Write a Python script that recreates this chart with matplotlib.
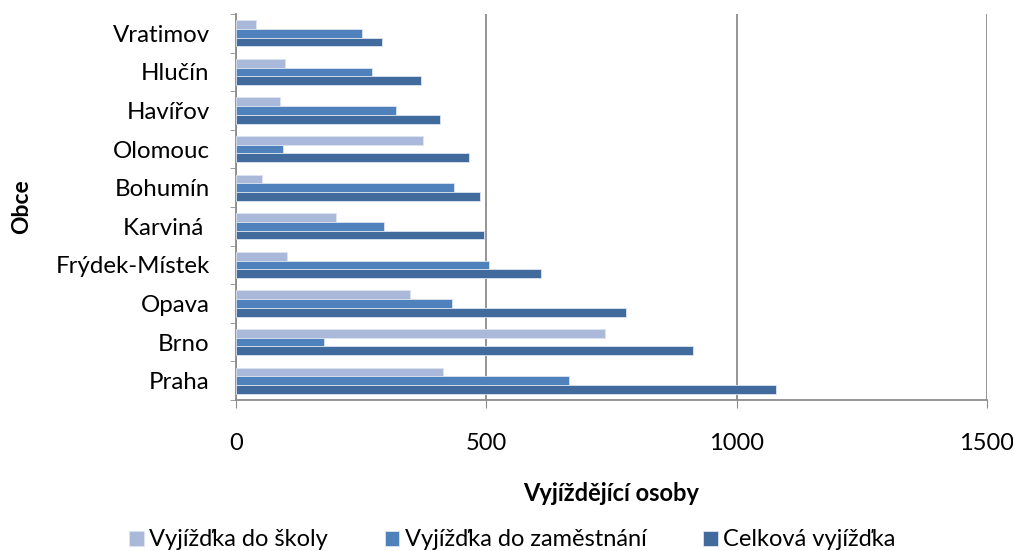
import numpy as np
import matplotlib
matplotlib.use("Agg")
from matplotlib import pyplot as plt
from matplotlib.ticker import FixedLocator

# data, bottom to top as drawn
obce = ['Praha', 'Brno', 'Opava', 'Frýdek-Místek', 'Karviná ', 'Bohumín',
        'Olomouc', 'Havířov', 'Hlučín', 'Vratimov']
skola = [414, 737, 347, 101, 200, 51, 373, 88, 98, 39]
zamestnani = [665, 176, 431, 506, 295, 435, 93, 320, 272, 252]
celkem = [1079, 913, 778, 609, 495, 487, 466, 407, 370, 291]

series_names = ['Vyjížďka do školy', 'Vyjížďka do zaměstnání', 'Celková vyjížďka']
colors = ['#AAB9D9', '#4F81BD', '#416B9C']
xticks = [0, 500, 1000, 1500]

plt.rcParams['font.family'] = ['Lato', 'DejaVu Sans']

fig = plt.figure(figsize=(10.13, 5.51), dpi=100)
ax = fig.add_axes([0.233, 0.274, 0.7413, 0.7006])

y = np.arange(len(obce))
h = 0.225
for vals, off, c, name in zip([skola, zamestnani, celkem], [h, 0, -h], colors, series_names):
    ax.barh(y + off, vals, height=h, color=c, edgecolor='#DCE4F0', linewidth=0.6,
            label=name, zorder=3)

ax.set_xlim(0, 1500)
ax.set_ylim(-0.5, len(obce) - 0.5)
ax.set_xticks(xticks)
ax.set_xticklabels([str(t) for t in xticks], fontsize=17)
ax.tick_params(axis='x', direction='out', length=6, color='#8C8C8C', pad=18)
ax.set_yticks(y)
ax.set_yticklabels(obce, fontsize=17.3)
ax.tick_params(axis='y', which='major', length=0, pad=19)
ax.yaxis.set_minor_locator(FixedLocator(np.arange(-0.5, len(obce), 1)))
ax.tick_params(axis='y', which='minor', direction='out', length=4.5, color='#8C8C8C')

ax.grid(axis='x', color='#8C8C8C', linewidth=1.3, zorder=0)
for s in ['top', 'right']:
    ax.spines[s].set_visible(False)
for s in ['left', 'bottom']:
    ax.spines[s].set_color('#8C8C8C')
    ax.spines[s].set_linewidth(1.3)

ax.set_xlabel('Vyjíždějící osoby', fontsize=17, fontweight='bold', labelpad=20)
ax.set_ylabel('Obce', fontsize=16.5, fontweight='bold', labelpad=17)

fig.legend(loc='center', bbox_to_anchor=(0.506, 0.02), ncol=3, frameon=False,
           fontsize=17, handlelength=0.6, handleheight=0.6, handletextpad=0.25,
           columnspacing=2.4, borderpad=0)

fig.savefig('out.png', dpi=100)
